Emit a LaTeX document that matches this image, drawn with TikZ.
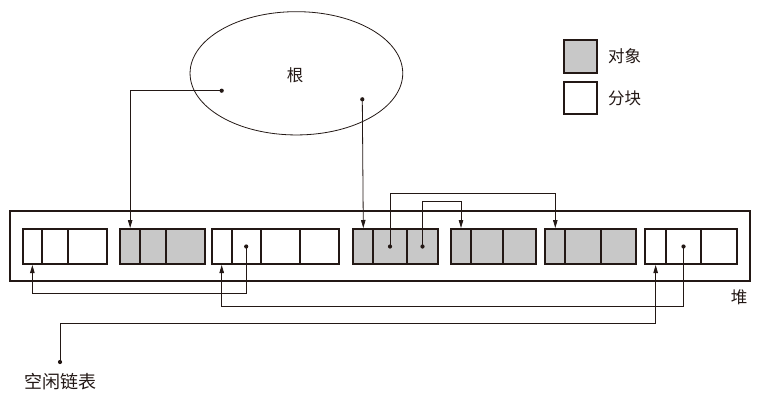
\documentclass[tikz,border=0pt]{standalone}
\usepackage{fontspec}
\newfontfamily\cjk{Noto Sans CJK SC}
\usetikzlibrary{arrows.meta,shapes.geometric}
\definecolor{objgray}{HTML}{C8C8C8}
\definecolor{ink}{HTML}{231815}
\tikzset{
  cell/.style={draw=ink, line width=2pt, minimum height=35pt, inner sep=0pt, anchor=north west},
  obj/.style={fill=objgray},
  free/.style={fill=white},
  link/.style={draw=ink, line width=0.8pt},
  arr/.style={link, -{Triangle[length=8pt,width=4.5pt]}},
  dot/.style={fill=ink},
  lbl/.style={font=\cjk\fontsize{16.5pt}{16.5pt}\selectfont, text=ink, inner sep=0pt}
}
\newcommand\mkcell[4]{\node[cell,#4,minimum width={#3-#2}] (#1) at (#2,228) {};}
\begin{document}
\begin{tikzpicture}[x=1pt,y=-1pt]
\useasboundingbox (0,0) rectangle (763,400);
% root
\node[draw=ink, line width=0.8pt, ellipse, minimum width=212.7pt, minimum height=123.3pt, inner sep=0pt] (root) at (296.4,73.3) {};
\node[lbl] (rootlbl) at (295,75) {根};
\coordinate (r1) at (221.7,90.7);
\coordinate (r2) at (362.3,99.3);
% legend
\node[cell, obj, minimum width=32.4pt, minimum height=32.7pt] (legobj) at (563.3,39) {};
\node[cell, free, minimum width=32.4pt, minimum height=32.7pt] (legfree) at (563.3,80.7) {};
\node[lbl, anchor=west] (legobjt) at (608,56) {对象};
\node[lbl, anchor=west] (legfreet) at (608,98) {分块};
% heap
\node[draw=ink, line width=2pt, minimum width=740pt, minimum height=70pt, inner sep=0pt, anchor=north west] (heap) at (9,210) {};
\node[lbl] (heaplbl) at (739,297) {堆};
% blocks
\mkcell{b1a}{21.7}{41}{free}
\mkcell{b1b}{41}{67.3}{free}
\mkcell{b1c}{67.3}{106}{free}
\mkcell{b2a}{119}{139.3}{obj}
\mkcell{b2b}{139.3}{165.3}{obj}
\mkcell{b2c}{165.3}{204}{obj}
\mkcell{b3a}{210.7}{230.7}{free}
\mkcell{b3b}{230.7}{259.7}{free}
\mkcell{b3c}{259.7}{299}{free}
\mkcell{b3d}{299}{338.3}{free}
\mkcell{b4a}{352.3}{372.3}{obj}
\mkcell{b4b}{372.3}{405.7}{obj}
\mkcell{b4c}{405.7}{437.3}{obj}
\mkcell{b5a}{450}{470}{obj}
\mkcell{b5b}{470}{502.3}{obj}
\mkcell{b5c}{502.3}{535}{obj}
\mkcell{b6a}{544.3}{564.3}{obj}
\mkcell{b6b}{564.3}{600}{obj}
\mkcell{b6c}{600}{635}{obj}
\mkcell{b7a}{644.3}{665}{free}
\mkcell{b7b}{665}{700}{free}
\mkcell{b7c}{700}{736}{free}
% free list head
\node[lbl, font=\cjk\fontsize{18pt}{18pt}\selectfont] (freelbl) at (60,381.5) {空闲链表};
\coordinate (fl) at (60,362);
% routing levels
\coordinate (h1) at (0,193.3);
\coordinate (h2) at (0,201.7);
\coordinate (h3) at (0,293.3);
\coordinate (h4) at (0,306);
\coordinate (h5) at (0,323.3);
% connectors
\draw[arr] (r1) -| (b2a.north);
\draw[arr] (r2) -- (b4a.north);
\draw[arr] (b4b.center) -- (b4b.center |- h1) -| (b6a.north);
\draw[arr] (b4c.center) -- (b4c.center |- h2) -| (b5a.north);
\draw[arr] (b3b.center) -- (b3b.center |- h3) -| (b1a.south);
\draw[arr] (b7b.center) -- (b7b.center |- h4) -| (b3a.south);
\draw[arr] (fl) -- (fl |- h5) -| (b7a.south);
% dots
\foreach \p in {r1,r2,fl,b3b.center,b4b.center,b4c.center,b7b.center}
  \fill[dot] (\p) circle (2.1pt);
\end{tikzpicture}
\end{document}
